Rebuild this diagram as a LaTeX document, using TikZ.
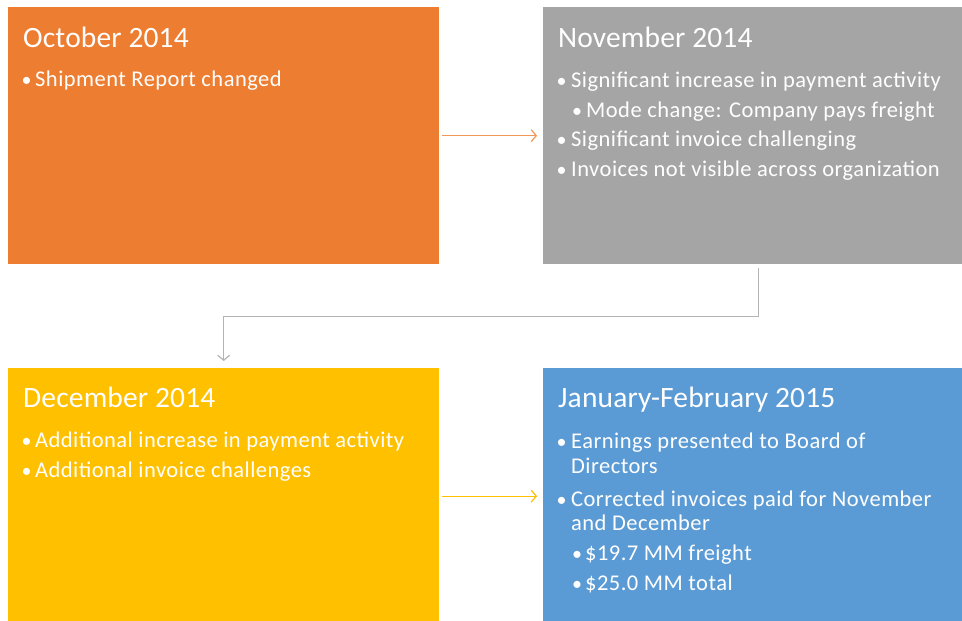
\documentclass[tikz,border=0pt]{standalone}
\usepackage{fontspec}
\setmainfont{Carlito}
\usetikzlibrary{arrows.meta}
\definecolor{cOrange}{HTML}{ED7D31}
\definecolor{cGray}{HTML}{A5A5A5}
\definecolor{cYellow}{HTML}{FFC000}
\definecolor{cBlue}{HTML}{5B9BD5}
\definecolor{cGrayLine}{HTML}{B4B4B4}
\tikzset{
  panel/.style={rectangle, draw=none, anchor=north west, inner sep=0pt},
  ttl/.style={anchor=base west, inner sep=0pt, text=white, font=\fontsize{29.5}{34}\selectfont\addfontfeature{LetterSpace=0.5}},
  txt/.style={anchor=base west, inner sep=0pt, text=white, font=\fontsize{22.5}{26}\selectfont\addfontfeature{LetterSpace=2.1}},
  bulletmark/.style={anchor=base west, inner sep=0pt, text=white, font=\fontsize{20}{26}\selectfont},
  conn/.style={line width=1.2pt, -{Straight Barb[length=5pt,width=12pt,line width=1.2pt]}},
}
\begin{document}
\begin{tikzpicture}[x=1pt,y=-1pt]
\useasboundingbox (0,0) rectangle (962,621);
% panels
\node[panel, fill=cOrange, minimum width=431pt, minimum height=257pt] (oct) at (8,7) {};
\node[panel, fill=cGray, minimum width=419pt, minimum height=257pt] (nov) at (543,7) {};
\node[panel, fill=cYellow, minimum width=431pt, minimum height=253pt] (dec) at (8,368) {};
\node[panel, fill=cBlue, minimum width=419pt, minimum height=253pt] (jan) at (543,368) {};
% October
\node[ttl] (octT) at (23,47) {October 2014};
\node[bulletmark] (octB1) at (21.5,86) {\textbullet};
\node[txt] (octL1) at (35,86) {Shipment Report changed};
% November
\node[ttl] (novT) at (558,47) {November 2014};
\node[bulletmark] (novB1) at (556.5,87) {\textbullet};
\node[txt] (novL1) at (571,87) {Significant increase in payment activity};
\node[bulletmark] (novB2) at (572,117) {\textbullet};
\node[txt] (novL2) at (586,117) {Mode change: Company pays freight};
\node[bulletmark] (novB3) at (556.5,146) {\textbullet};
\node[txt] (novL3) at (571,146) {Significant invoice challenging};
\node[bulletmark] (novB4) at (556.5,176) {\textbullet};
\node[txt] (novL4) at (571,176) {Invoices not visible across organization};
% December
\node[ttl] (decT) at (23,407) {December 2014};
\node[bulletmark] (decB1) at (21.5,447) {\textbullet};
\node[txt] (decL1) at (35,447) {Additional increase in payment activity};
\node[bulletmark] (decB2) at (21.5,477) {\textbullet};
\node[txt] (decL2) at (35,477) {Additional invoice challenges};
% January-February
\node[ttl] (janT) at (558,407) {January-February 2015};
\node[bulletmark] (janB1) at (556.5,448) {\textbullet};
\node[txt] (janL1) at (571,448) {Earnings presented to Board of};
\node[txt] (janL1b) at (571,473) {Directors};
\node[bulletmark] (janB2) at (556.5,506) {\textbullet};
\node[txt] (janL2) at (571,506) {Corrected invoices paid for November};
\node[txt] (janL2b) at (571,530) {and December};
\node[bulletmark] (janB3) at (572,560) {\textbullet};
\node[txt] (janL3) at (585,560) {\$19.7 MM freight};
\node[bulletmark] (janB4) at (572,590) {\textbullet};
\node[txt] (janL4) at (585,590) {\$25.0 MM total};
% connectors
\draw[conn, cOrange!80] ([xshift=3pt]oct.east) -- ([xshift=-6pt]nov.west);
\draw[conn, cYellow] ([xshift=3pt,yshift=-1.5pt]dec.east) -- ([xshift=-6pt,yshift=-1.5pt]jan.west);
\draw[conn, cGrayLine] ([xshift=5.5pt,yshift=-4pt]nov.south) -- ++(0,48) -| ([yshift=7pt]dec.north);
\end{tikzpicture}
\end{document}
